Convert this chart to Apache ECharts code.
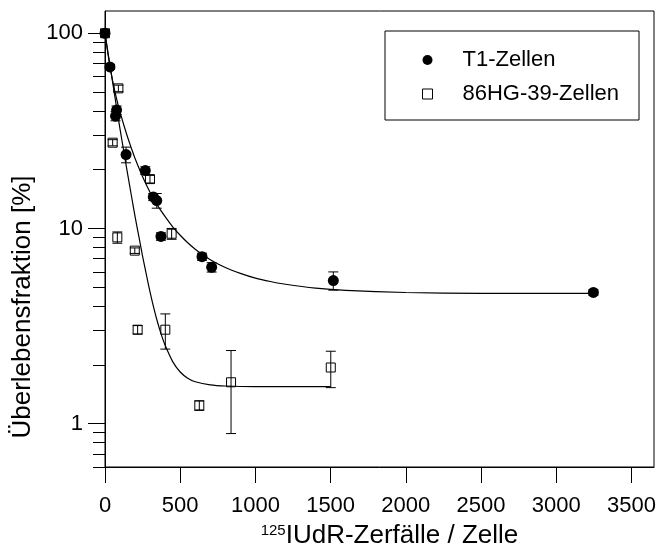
<!DOCTYPE html>
<html>
<head>
<meta charset="utf-8">
<script src="https://cdn.jsdelivr.net/npm/echarts@6/dist/echarts.min.js"></script>
<style>
  html, body { margin: 0; padding: 0; background: #fff; }
  #chart { width: 659px; height: 554px; }
</style>
</head>
<body>
<div id="chart"></div>
<script>
// Survival fraction vs. 125IUdR decays per cell
const t1X   = [0, 33, 70, 77, 140, 268, 321, 344, 372, 645, 709, 1518, 3247];
const t1Y   = [100, 67.2, 37.6, 40.4, 23.9, 19.8, 14.5, 13.9, 9.1, 7.17, 6.33, 5.41, 4.70];
const t1Err = [1.5, 2.0, 2.0, 2.0, 2.2, 0.9, 0.6, 1.2, 0.4, 0.3, 0.35, 0.58, 0.15];

const hgX   = [0, 51, 89, 82, 198, 217, 299, 401, 443, 627, 838, 1501];
const hgY   = [100, 27.5, 52.2, 9.0, 7.7, 3.03, 17.9, 3.03, 9.4, 1.24, 1.63, 1.94];
const hgErr = [1.5, 1.0, 2.0, 0.6, 0.25, 0.15, 0.8, 0.62, 0.6, 0.07, 0.74, 0.41];

// fitted curves
const t1FitX = [0, 20, 40, 60, 80, 100, 125, 150, 175, 200, 250, 300, 350, 400, 450, 500, 550, 600, 650, 700, 800, 900, 1000, 1100, 1200, 1400, 1600, 2000, 2500, 3250];
const t1FitY = [100, 78.2, 63.1, 52.7, 45.2, 39.4, 33.9, 29.4, 25.8, 22.8, 18.4, 15.3, 13.1, 11.5, 10.2, 9.23, 8.45, 7.83, 7.33, 6.92, 6.31, 5.89, 5.57, 5.35, 5.18, 4.95, 4.82, 4.70, 4.65, 4.65];
const hgFitX = [0, 20, 40, 60, 80, 100, 125, 150, 175, 200, 225, 250, 275, 300, 325, 350, 375, 400, 450, 500, 550, 600, 700, 800, 1000, 1500];
const hgFitY = [100, 79.4, 63.4, 50.5, 40.3, 32.3, 24.8, 19.1, 14.8, 11.5, 9.1, 7.2, 5.8, 4.7, 3.9, 3.3, 2.85, 2.52, 2.08, 1.84, 1.71, 1.64, 1.58, 1.56, 1.55, 1.55];

const xTicks = [0, 500, 1000, 1500, 2000, 2500, 3000, 3500];
const yMajor = [1, 10, 100];
const yMinor = [0.6, 0.7, 0.8, 0.9, 2, 3, 4, 5, 6, 7, 8, 9, 20, 30, 40, 50, 60, 70, 80, 90];

const FONT = 'Liberation Sans, Arial, Helvetica, sans-serif';

const zip = (xs, ys) => xs.map((x, i) => [x, ys[i]]);
const errRows = (xs, ys, es) => xs.map((x, i) => [x, ys[i] - es[i], ys[i] + es[i]]);

function errorBarItem(params, api) {
  const x = api.value(0);
  const top = api.coord([x, api.value(2)]);
  const bot = api.coord([x, api.value(1)]);
  const hw = 5;
  const st = { stroke: '#000', lineWidth: 1 };
  return {
    type: 'group',
    children: [
      { type: 'line', shape: { x1: top[0], y1: top[1], x2: bot[0], y2: bot[1] }, style: st },
      { type: 'line', shape: { x1: top[0] - hw, y1: top[1], x2: top[0] + hw, y2: top[1] }, style: st },
      { type: 'line', shape: { x1: bot[0] - hw, y1: bot[1], x2: bot[0] + hw, y2: bot[1] }, style: st }
    ]
  };
}

const chart = echarts.init(document.getElementById('chart'), null, { renderer: 'canvas' });

const logAxisBase = {
  type: 'log', logBase: 10, min: 0.6, max: 130,
  position: 'left',
  splitLine: { show: false }
};

chart.setOption({
  animation: false,
  backgroundColor: '#fff',
  textStyle: { fontFamily: FONT, color: '#000' },
  grid: {
    left: 105, top: 11, right: 5, bottom: 87,
    show: true, borderColor: '#000', borderWidth: 1, backgroundColor: 'transparent'
  },
  legend: {
    orient: 'vertical',
    left: 385, top: 31,
    padding: [18, 20, 15, 37],
    itemWidth: 10, itemHeight: 10,
    itemGap: 12,
    borderColor: '#000', borderWidth: 1,
    textStyle: { fontFamily: FONT, fontSize: 22, color: '#000', padding: [0, 0, 0, 25] },
    data: [
      { name: 'T1-Zellen', icon: 'circle', itemStyle: { color: '#000', borderWidth: 0, opacity: 1 } },
      { name: '86HG-39-Zellen', icon: 'rect', itemStyle: { color: '#fff', borderColor: '#000', borderWidth: 1, opacity: 1 } }
    ]
  },
  xAxis: {
    type: 'value', min: 0, max: 3650,
    axisLine: { show: true, onZero: false, lineStyle: { color: '#000', width: 1 } },
    axisTick: { show: true, inside: false, length: 16, customValues: xTicks, lineStyle: { color: '#000' } },
    axisLabel: {
      customValues: xTicks, fontFamily: FONT, fontSize: 22, color: '#000', margin: 28,
      formatter: v => String(v)
    },
    splitLine: { show: false },
    name: '{sup|125}{main|IUdR-Zerfälle / Zelle}',
    nameLocation: 'middle',
    nameGap: 56,
    nameTextStyle: {
      padding: [0, 0, 0, 20],
      rich: {
        sup: { fontFamily: FONT, fontSize: 15, color: '#000', verticalAlign: 'top' },
        main: { fontFamily: FONT, fontSize: 26, color: '#000' }
      }
    }
  },
  yAxis: [
    Object.assign({}, logAxisBase, {
      axisLine: { show: true, lineStyle: { color: '#000', width: 1 } },
      axisTick: { show: true, inside: false, length: 17, customValues: yMajor, lineStyle: { color: '#000' } },
      axisLabel: { customValues: yMajor, fontFamily: FONT, fontSize: 22, color: '#000', margin: 22 }
    }),
    Object.assign({}, logAxisBase, {
      axisLine: { show: false },
      axisTick: { show: true, inside: false, length: 12, customValues: yMinor, lineStyle: { color: '#000' } },
      axisLabel: { show: false }
    })
  ],
  graphic: [{
    type: 'text',
    x: 23, y: 307,
    rotation: Math.PI / 2,
    style: {
      text: 'Überlebensfraktion [%]',
      font: '26px ' + FONT,
      fill: '#000',
      align: 'center',
      verticalAlign: 'middle'
    }
  }],
  series: [
    {
      name: 'hgFit', type: 'line', data: zip(hgFitX, hgFitY),
      smooth: 0.25, showSymbol: false, symbol: 'none',
      lineStyle: { color: '#000', width: 1.2 }, z: 2, silent: true
    },
    {
      name: 't1Fit', type: 'line', data: zip(t1FitX, t1FitY),
      smooth: 0.25, showSymbol: false, symbol: 'none',
      lineStyle: { color: '#000', width: 1.2 }, z: 2, silent: true
    },
    {
      name: 'hgErr', type: 'custom', renderItem: errorBarItem,
      data: errRows(hgX, hgY, hgErr), encode: { x: 0, y: [1, 2] }, z: 3, silent: true
    },
    {
      name: 't1Err', type: 'custom', renderItem: errorBarItem,
      data: errRows(t1X, t1Y, t1Err), encode: { x: 0, y: [1, 2] }, z: 3, silent: true
    },
    {
      name: '86HG-39-Zellen', type: 'scatter', data: zip(hgX, hgY),
      symbol: 'rect', symbolSize: 9, clip: false,
      itemStyle: { color: 'rgba(255,255,255,0)', borderColor: '#000', borderWidth: 1, opacity: 1 }, z: 4
    },
    {
      name: 'T1-Zellen', type: 'scatter', data: zip(t1X, t1Y),
      symbol: 'circle', symbolSize: 11, clip: false,
      itemStyle: { color: '#000', opacity: 1 }, z: 5
    }
  ]
});
</script>
</body>
</html>
